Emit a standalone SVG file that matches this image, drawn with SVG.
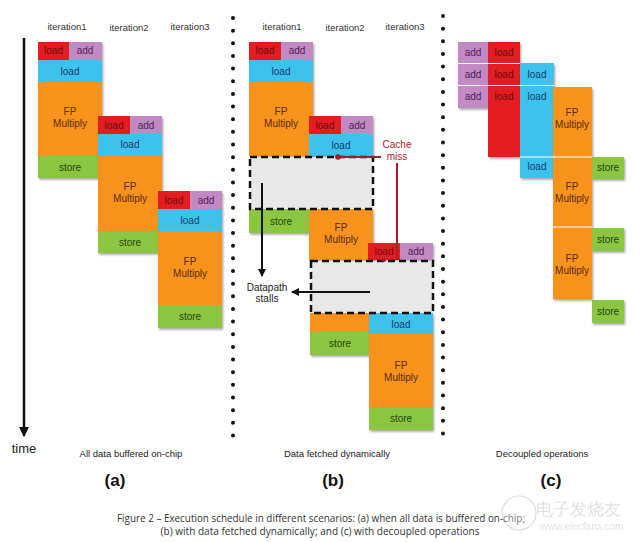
<svg xmlns="http://www.w3.org/2000/svg" width="640" height="542" viewBox="0 0 640 542">
<style>
text{font-family:"Liberation Sans",Arial,sans-serif}
.t{font-size:10px;text-anchor:middle}
.it{font-size:9.5px;text-anchor:middle;fill:#333}
.red{fill:#e31b23}.pur{fill:#c389c3}.blu{fill:#3cc2ee}.ora{fill:#f7931e}.grn{fill:#8cc63f}
.tr{fill:#6a0d10}.tp{fill:#4b2556}.tb{fill:#163a66}.to{fill:#5a2a06}.tg{fill:#254410}
.stall{fill:#e8e8e8;stroke:#111;stroke-width:2.5;stroke-dasharray:7 4}
.sep{stroke:#111;stroke-width:4;stroke-linecap:round;stroke-dasharray:0 12.65;fill:none}
.wl{stroke:#fff;stroke-width:1}
.cap{font-family:"Open Sans","Liberation Sans",sans-serif;font-size:10px;fill:#333;text-anchor:middle}
.lbl{font-size:9.5px;text-anchor:middle;fill:#222}
.pl{font-size:17px;font-weight:bold;text-anchor:middle;fill:#111}
.cm{font-size:10px;fill:#b3202c;text-anchor:middle}
</style>
<defs>
<filter id="sh" x="-10%" y="-10%" width="130%" height="130%">
<feDropShadow dx="1.2" dy="1.8" stdDeviation="1" flood-color="#000" flood-opacity="0.35"/>
</filter>
<marker id="ah" markerWidth="8" markerHeight="8" refX="7" refY="4" orient="auto" markerUnits="userSpaceOnUse">
<path d="M0,0 L8,4 L0,8 z" fill="#111"/>
</marker>
<marker id="ahb" markerWidth="10" markerHeight="10" refX="9" refY="5" orient="auto" markerUnits="userSpaceOnUse">
<path d="M0,0 L10,5 L0,10 z" fill="#111"/>
</marker>
</defs>
<rect width="640" height="542" fill="#fff"/>

<!-- separators -->
<g id="separators">
<line class="sep" x1="233" y1="18" x2="233" y2="438"/>
<line class="sep" x1="443" y1="16" x2="443" y2="436"/>
</g>

<!-- Panel (a) -->
<g id="a-labels">
<text class="it" x="67" y="30">iteration1</text>
<text class="it" x="129" y="31">iteration2</text>
<text class="it" x="190" y="30">iteration3</text>
</g>
<g id="a-iter1" filter="url(#sh)">
<rect class="red" x="38" y="42" width="31" height="18"/><rect class="pur" x="69" y="42" width="33" height="18"/>
<rect class="blu" x="38" y="60" width="64" height="22"/>
<rect class="ora" x="38" y="82" width="64" height="74"/>
<rect class="grn" x="38" y="156" width="64" height="22"/>
</g>
<g id="a-iter1-text">
<text class="t tr" x="53.5" y="54">load</text><text class="t tp" x="85" y="54">add</text>
<text class="t tb" x="70" y="75">load</text>
<text class="t to" x="70" y="115">FP</text><text class="t to" x="70" y="127">Multiply</text>
<text class="t tg" x="70" y="171">store</text>
</g>
<g id="a-iter2" filter="url(#sh)">
<rect class="red" x="98" y="116" width="32" height="18"/><rect class="pur" x="130" y="116" width="32" height="18"/>
<rect class="blu" x="98" y="134" width="64" height="21"/>
<rect class="ora" x="98" y="155" width="64" height="76"/>
<rect class="grn" x="98" y="231" width="64" height="22"/>
</g>
<g id="a-iter2-text">
<text class="t tr" x="114" y="128.5">load</text><text class="t tp" x="146" y="128.5">add</text>
<text class="t tb" x="130" y="148">load</text>
<text class="t to" x="130" y="190">FP</text><text class="t to" x="130" y="202">Multiply</text>
<text class="t tg" x="130" y="245.5">store</text>
</g>
<g id="a-iter3" filter="url(#sh)">
<rect class="red" x="158" y="191" width="32" height="18"/><rect class="pur" x="190" y="191" width="32" height="18"/>
<rect class="blu" x="158" y="209" width="64" height="22"/>
<rect class="ora" x="158" y="231" width="64" height="74"/>
<rect class="grn" x="158" y="305" width="64" height="23"/>
</g>
<g id="a-iter3-text">
<text class="t tr" x="174" y="203.5">load</text><text class="t tp" x="206" y="203.5">add</text>
<text class="t tb" x="190" y="224">load</text>
<text class="t to" x="190" y="265">FP</text><text class="t to" x="190" y="277">Multiply</text>
<text class="t tg" x="190" y="320">store</text>
</g>
<g id="time">
<text x="24" y="453" font-size="13" text-anchor="middle" fill="#222">time</text>
</g>
<text class="lbl" x="131" y="457">All data buffered on-chip</text>
<text class="pl" x="115" y="486">(a)</text>

<!-- Panel (b) -->
<g id="b-labels">
<text class="it" x="282" y="30">iteration1</text>
<text class="it" x="345" y="31">iteration2</text>
<text class="it" x="405" y="30">iteration3</text>
</g>
<g id="b-iter1" filter="url(#sh)">
<rect class="red" x="249" y="42" width="32" height="18"/><rect class="pur" x="281" y="42" width="32" height="18"/>
<rect class="blu" x="249" y="60" width="64" height="22"/>
<rect class="ora" x="249" y="82" width="64" height="74"/>
<rect class="grn" x="249" y="209" width="60" height="24"/>
</g>
<g id="b-iter2" filter="url(#sh)">
<rect class="red" x="309" y="116" width="32" height="18"/><rect class="pur" x="341" y="116" width="32" height="18"/>
<rect class="blu" x="309" y="134" width="64" height="22"/>
<rect class="ora" x="309" y="209" width="64" height="51"/>
<rect class="ora" x="310" y="313" width="59" height="19"/>
<rect class="grn" x="310" y="332" width="59" height="23"/>
</g>
<g id="b-iter3" filter="url(#sh)">
<rect class="red" x="368" y="243" width="32" height="17"/><rect class="pur" x="400" y="243" width="33" height="17"/>
<rect class="blu" x="369" y="313" width="64" height="21"/>
<rect class="ora" x="369" y="334" width="64" height="73"/>
<rect class="grn" x="369" y="407" width="64" height="23"/>
</g>
<g id="b-stall1"><rect class="stall" x="250" y="157" width="123" height="52"/></g>
<g id="b-stall2"><rect class="stall" x="311" y="261" width="122" height="52"/></g>
<g id="b-text">
<text class="t tr" x="265" y="54">load</text><text class="t tp" x="297" y="54">add</text>
<text class="t tb" x="281" y="75">load</text>
<text class="t to" x="281" y="115">FP</text><text class="t to" x="281" y="127">Multiply</text>
<text class="t tr" x="325" y="128.5">load</text><text class="t tp" x="357" y="128.5">add</text>
<text class="t tb" x="341" y="149">load</text>
<text class="t tg" x="281" y="225">store</text>
<text class="t to" x="341" y="231">FP</text><text class="t to" x="341" y="243">Multiply</text>
<text class="t tr" x="384" y="255">load</text><text class="t tp" x="416" y="255">add</text>
<text class="t tb" x="401" y="328">load</text>
<text class="t tg" x="340" y="347">store</text>
<text class="t to" x="401" y="369">FP</text><text class="t to" x="401" y="381">Multiply</text>
<text class="t tg" x="401" y="422">store</text>
</g>
<g id="b-notes">
<text class="cm" x="397" y="148">Cache</text>
<text class="cm" x="397" y="160">miss</text>
<text class="t" x="267" y="291" fill="#222">Datapath</text>
<text class="t" x="267" y="302" fill="#222">stalls</text>
</g>
<text class="lbl" x="337" y="457">Data fetched dynamically</text>
<text class="pl" x="333" y="486">(b)</text>

<!-- Panel (c) -->
<g id="c-add" filter="url(#sh)">
<rect class="pur" x="458" y="42" width="30" height="66"/>
</g>
<g id="c-load-red" filter="url(#sh)">
<rect class="red" x="488" y="42" width="32" height="115"/>
</g>
<g id="c-load-blue" filter="url(#sh)">
<rect class="blu" x="520" y="63" width="34" height="94"/>
<rect class="blu" x="520" y="157" width="34" height="21"/>
</g>
<g id="c-fp" filter="url(#sh)">
<rect class="ora" x="553" y="87" width="39" height="212"/>
</g>
<g id="c-store" filter="url(#sh)">
<rect class="grn" x="592" y="157" width="32" height="22"/>
<rect class="grn" x="592" y="228" width="32" height="23"/>
<rect class="grn" x="592" y="300" width="32" height="23"/>
</g>
<g id="c-lines">
<line class="wl" x1="458" y1="63.5" x2="520" y2="63.5"/>
<line class="wl" x1="458" y1="85.5" x2="554" y2="85.5"/>
<line class="wl" x1="520" y1="157" x2="554" y2="157"/>
<line class="wl" x1="553" y1="157" x2="592" y2="157"/>
<line class="wl" x1="553" y1="227" x2="592" y2="227"/>
</g>
<g id="c-text">
<text class="t tp" x="473" y="56">add</text><text class="t tr" x="504" y="56">load</text>
<text class="t tp" x="473" y="78">add</text><text class="t tr" x="504" y="78">load</text><text class="t tb" x="537" y="78">load</text>
<text class="t tp" x="473" y="100">add</text><text class="t tr" x="504" y="100">load</text><text class="t tb" x="537" y="100">load</text>
<text class="t tb" x="537" y="170">load</text>
<text class="t to" x="572" y="116">FP</text><text class="t to" x="572" y="128">Multiply</text>
<text class="t to" x="572" y="190">FP</text><text class="t to" x="572" y="202">Multiply</text>
<text class="t to" x="572" y="262">FP</text><text class="t to" x="572" y="274">Multiply</text>
<text class="t tg" x="608" y="171">store</text>
<text class="t tg" x="608" y="243">store</text>
<text class="t tg" x="608" y="315">store</text>
</g>
<text class="lbl" x="542" y="457">Decoupled operations</text>
<text class="pl" x="551" y="486">(c)</text>

<!-- connectors -->
<g id="connectors">
<line x1="24" y1="38" x2="24" y2="436" stroke="#111" stroke-width="2.5" marker-end="url(#ahb)"/>
<line x1="262" y1="183" x2="262" y2="276" stroke="#111" stroke-width="2" marker-end="url(#ah)"/>
<line x1="370" y1="292" x2="292" y2="292" stroke="#111" stroke-width="2" marker-end="url(#ah)"/>
<line x1="338" y1="157" x2="381" y2="157" stroke="#a51d2a" stroke-width="2"/>
<circle cx="338" cy="157" r="2.8" fill="#a51d2a"/>
<line x1="397" y1="163" x2="397" y2="260" stroke="#a51d2a" stroke-width="2"/>
<circle cx="384" cy="260" r="2" fill="#a51d2a"/>
</g>

<!-- caption -->
<text class="cap" x="321" y="522" textLength="408" lengthAdjust="spacingAndGlyphs">Figure 2 – Execution schedule in different scenarios: (a) when all data is buffered on-chip;</text>
<text class="cap" x="320" y="535" textLength="319" lengthAdjust="spacingAndGlyphs">(b) with data fetched dynamically; and (c) with decoupled operations</text>

<g id="watermark" opacity="0.35">
<circle cx="519" cy="513" r="17" fill="#fff" stroke="#999" stroke-width="1.2"/>
<text x="578" y="515" font-size="17" text-anchor="middle" fill="#aaa" font-family="'Noto Sans CJK SC',sans-serif">电子发烧友</text>
<text x="582" y="530" font-size="10" text-anchor="middle" fill="#aaa" font-family="'Liberation Sans',sans-serif">www.elecfans.com</text>
</g>
</svg>
